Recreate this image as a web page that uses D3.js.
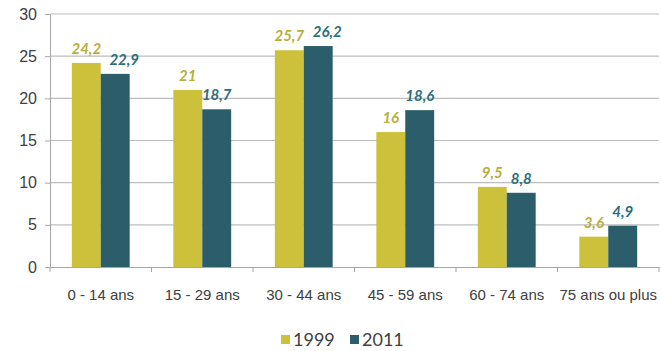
<!DOCTYPE html>
<html>
<head>
<meta charset="utf-8">
<script src="https://cdn.jsdelivr.net/npm/d3@7"></script>
<style>
  body { margin: 0; background: #fff; }
  svg { display: block; font-family: Lato, "Open Sans", sans-serif; }
</style>
</head>
<body>
<svg></svg>
<script>
const categories = ['0 - 14 ans', '15 - 29 ans', '30 - 44 ans', '45 - 59 ans', '60 - 74 ans', '75 ans ou plus'];
const years = ['1999', '2011'];
const values1999 = [24.2, 21, 25.7, 16, 9.5, 3.6];
const values2011 = [22.9, 18.7, 26.2, 18.6, 8.8, 4.9];
const yTicks = [0, 5, 10, 15, 20, 25, 30];

const width = 661;
const height = 351;
const margin = { top: 14, right: 2, bottom: 84, left: 50 };
const innerWidth = width - margin.left - margin.right;
const innerHeight = height - margin.top - margin.bottom;

const colors = { '1999': '#cdc13c', '2011': '#2b5e6a' };
const labelColors = { '1999': '#b8ae3e', '2011': '#2d6f7c' };

const svg = d3.select('svg')
    .attr('width', width)
    .attr('height', height);

const g = svg.append('g')
    .attr('transform', `translate(${margin.left},${margin.top})`);

const x = d3.scaleBand().domain(categories).range([0, innerWidth]).paddingInner(0).paddingOuter(0);
const x1 = d3.scaleBand().domain(years).range([x.bandwidth() * 0.215, x.bandwidth() * 0.785]);
const y = d3.scaleLinear().domain([0, 30]).range([innerHeight, 0]);

// gridlines
g.selectAll('line.grid')
  .data(yTicks.filter(d => d > 0))
  .enter().append('line')
    .attr('x1', 0)
    .attr('x2', innerWidth)
    .attr('y1', d => y(d))
    .attr('y2', d => y(d))
    .attr('stroke', '#bdbdbd')
    .attr('stroke-width', 1.2);

// y axis
const yAxis = g.append('g')
    .call(d3.axisLeft(y).tickValues(yTicks).tickSize(5).tickPadding(8));
yAxis.select('.domain').attr('stroke', '#a6a6a6');
yAxis.selectAll('.tick line').attr('stroke', '#a6a6a6');
yAxis.selectAll('text').attr('fill', '#404040').style('font-size', '16px');

// bars
const data = categories.map((c, i) => ({ cat: c, vals: [values1999[i], values2011[i]] }));

const groups = g.selectAll('g.cat')
  .data(data)
  .enter().append('g')
    .attr('transform', d => `translate(${x(d.cat)},0)`);

groups.selectAll('rect')
  .data(d => years.map((yr, j) => ({ yr, v: d.vals[j] })))
  .enter().append('rect')
    .attr('x', d => x1(d.yr))
    .attr('width', x1.bandwidth())
    .attr('y', d => y(d.v))
    .attr('height', d => innerHeight - y(d.v))
    .attr('fill', d => colors[d.yr]);

groups.each(function () {
  const labels = d3.select(this).selectAll('text.val')
    .data(d => years.map((yr, j) => ({ yr, v: d.vals[j] })))
    .enter().append('text')
      .attr('class', 'val')
      .attr('x', d => x1(d.yr) + x1.bandwidth() / 2)
      .attr('y', d => y(d.v) - 9)
      .attr('text-anchor', 'middle')
      .attr('fill', d => labelColors[d.yr])
      .style('font-size', '15px')
      .style('font-weight', 'bold')
      .style('font-style', 'italic')
      .text(d => String(d.v).replace('.', ','));

  // nudge the 2011 label right when it runs into the 1999 one
  const [a, b] = labels.nodes().map(n => n.getBBox());
  if (b.x < a.x + a.width + 4 && Math.abs(a.y - b.y) < 14) {
    labels.filter((d, i) => i === 1).attr('dx', 9);
  }
});

// x axis
const xAxis = g.append('g')
    .attr('transform', `translate(0,${innerHeight})`)
    .call(d3.axisBottom(x).tickSize(0).tickPadding(22));
xAxis.select('.domain').attr('stroke', '#a6a6a6');
xAxis.selectAll('text').attr('fill', '#404040').style('font-size', '15px');
g.append('g').selectAll('line')
  .data(d3.range(categories.length + 1))
  .enter().append('line')
    .attr('x1', i => i * x.step())
    .attr('x2', i => i * x.step())
    .attr('y1', innerHeight)
    .attr('y2', innerHeight + 5)
    .attr('stroke', '#a6a6a6');

// legend
const legend = svg.append('g').attr('transform', 'translate(281,340)');
const items = legend.selectAll('g')
  .data(years)
  .enter().append('g')
    .attr('transform', (d, i) => `translate(${i * 69},0)`);
items.append('rect')
    .attr('x', 0).attr('y', -5)
    .attr('width', 9).attr('height', 9)
    .attr('fill', d => colors[d]);
items.append('text')
    .attr('x', 12).attr('dy', '0.36em')
    .attr('fill', '#404040')
    .style('font-size', '18px')
    .text(d => d);
</script>
</body>
</html>
